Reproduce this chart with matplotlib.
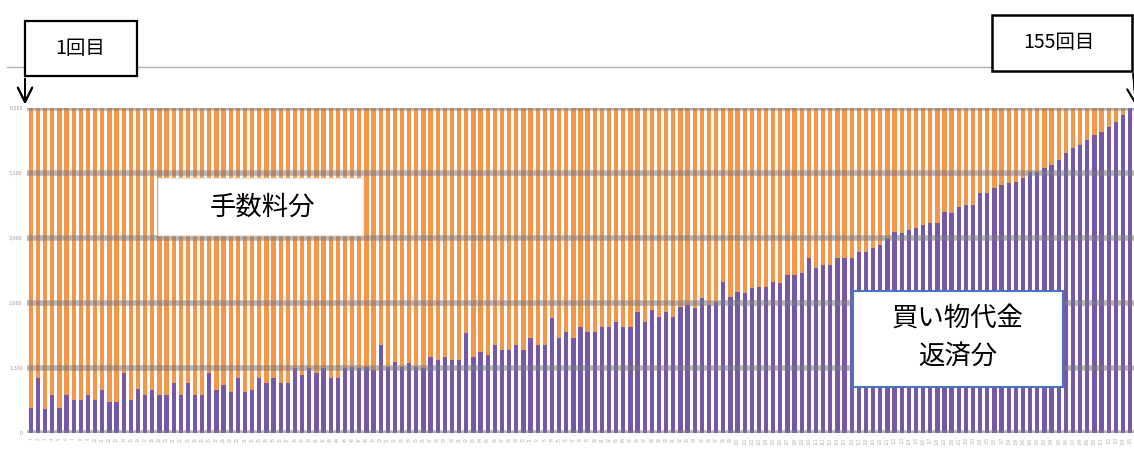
import numpy as np
import matplotlib
matplotlib.use("Agg")
import matplotlib.pyplot as plt
from matplotlib.patches import Rectangle
from matplotlib.lines import Line2D

plt.rcParams['font.family'] = ['Noto Sans CJK JP', 'DejaVu Sans']

# 毎回の支払額（一定）と、そのうち買い物代金の返済分
payment = 6500
principal = [
    500, 1100, 480, 760, 500, 760, 660, 660, 760, 660, 860, 620, 620, 1200, 660, 880, 760, 860, 760, 760,
    1000, 760, 1000, 760, 760, 1200, 860,
    960, 820, 1100, 820, 860, 1100, 1000, 1100, 1000, 1000, 1300, 1160, 1300, 1200, 1300, 1100, 1100, 1300, 1320,
    1300, 1320, 1260, 1760, 1320, 1420, 1320, 1400, 1320,
    1300, 1520, 1460, 1520, 1460, 1460, 2000, 1520, 1620, 1560, 1760, 1660, 1660, 1760, 1660, 1900, 1760, 1760,
    2300, 1900, 2020, 1900, 2120, 2020, 2020, 2120, 2120,
    2220, 2120, 2120, 2420, 2220, 2460, 2320, 2420, 2320, 2520, 2560, 2500, 2700, 2560, 2620, 3020, 2720, 2820,
    2800, 2900, 2920, 2920, 3020, 3000, 3160, 3160, 3200,
    3500, 3300, 3360, 3360, 3500, 3500, 3500, 3620, 3620, 3700, 3760, 3900, 4020, 4000, 4060, 4100, 4160, 4200,
    4200, 4420, 4400, 4520, 4560, 4560, 4800, 4800, 4900, 4960,
    5000, 5020, 5100, 5220, 5220, 5300, 5360, 5460, 5600, 5700, 5760, 5860, 5960, 6020, 6120, 6220, 6360, 6500,
]
n_times = list(range(1, len(principal) + 1))
y_ticks = [0, 1300, 2600, 3900, 5200, 6500]

W, H = 1134, 461
fig = plt.figure(figsize=(W / 100, H / 100), dpi=100)

def fx(x):
    return x / W

def fy(y):
    return 1 - y / H

ax = fig.add_axes([fx(27), fy(433), fx(1134) - fx(27), fy(108) - fy(433)])

principal = np.array(principal)
fee = payment - principal
ax.bar(n_times, principal, width=0.6, color='#7657a8', zorder=2)
ax.bar(n_times, fee, bottom=principal, width=0.6, color='#f5974a', zorder=2)

# 目盛線（太めのグレー）
for v in y_ticks:
    ax.axhline(v, color='#7a7a80', lw=4, alpha=0.55, zorder=3)

ax.set_xlim(0.45, len(principal) + 0.55)
ax.set_ylim(0, payment)
ax.set_yticks(y_ticks)
ax.set_yticklabels([f'{v:,}' for v in y_ticks], fontsize=4, color='#a0a0a0')
ax.set_xticks(n_times)
ax.set_xticklabels([str(i) for i in n_times], fontsize=3.2, color='#b5b5b5', rotation=90)
ax.tick_params(length=0, pad=3)
for sp in ax.spines.values():
    sp.set_visible(False)

# 上の細い線
fig.add_artist(Line2D([fx(7), 1], [fy(67), fy(67)], color='#b0b0b0', lw=1, zorder=1))

# 1回目
fig.add_artist(Rectangle((fx(25), fy(76)), fx(137) - fx(25), fy(21) - fy(76),
                         facecolor='white', edgecolor='black', lw=1.6, zorder=5))
fig.text(fx(80), fy(49), '1回目', fontsize=14, ha='center', va='center', zorder=6)
fig.add_artist(plt.annotate('', xy=(fx(25), fy(107)), xytext=(fx(25), fy(76)),
                            xycoords='figure fraction', textcoords='figure fraction',
                            arrowprops=dict(arrowstyle='->', color='black', lw=1.4, mutation_scale=26)))

# 155回目
fig.add_artist(Rectangle((fx(992), fy(71)), fx(1132) - fx(992), fy(15) - fy(71),
                         facecolor='white', edgecolor='black', lw=1.8, zorder=5))
fig.text(fx(1059), fy(43), '155回目', fontsize=14, ha='center', va='center', zorder=6)
fig.add_artist(plt.annotate('', xy=(fx(1136), fy(108)), xytext=(fx(1133), fy(71)),
                            xycoords='figure fraction', textcoords='figure fraction',
                            arrowprops=dict(arrowstyle='->', color='black', lw=1.3, mutation_scale=26)))

# 手数料分
fig.add_artist(Rectangle((fx(158), fy(235)), fx(363) - fx(158), fy(178) - fy(235),
                         facecolor='white', edgecolor='#f0e8e0', lw=1, zorder=5))
fig.text(fx(262), fy(207), '手数料分', fontsize=19, ha='center', va='center', zorder=6)

# 買い物代金 返済分
fig.add_artist(Rectangle((fx(853), fy(387)), fx(1063) - fx(853), fy(291) - fy(387),
                         facecolor='white', edgecolor='#4a74c4', lw=1.5, zorder=5))
fig.text(fx(958), fy(318), '買い物代金', fontsize=19, ha='center', va='center', zorder=6)
fig.text(fx(958), fy(356), '返済分', fontsize=19, ha='center', va='center', zorder=6)

plt.savefig('out.png', dpi=100)
plt.close()
